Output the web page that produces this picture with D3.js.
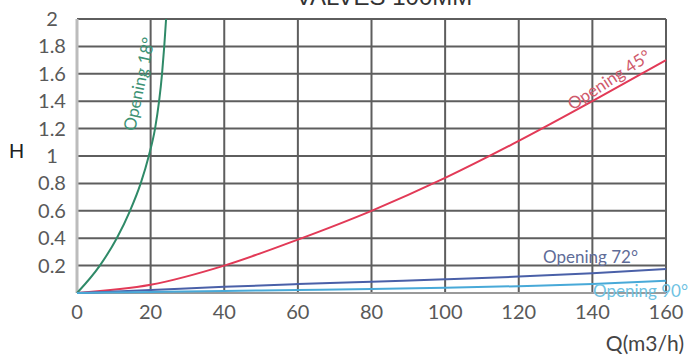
<!DOCTYPE html>
<html>
<head>
<meta charset="utf-8">
<script src="https://cdn.jsdelivr.net/npm/d3@7"></script>
<style>
  body { margin: 0; background: #fff; }
  svg { display: block; }
</style>
</head>
<body>
<div id="chart"></div>
<script>
(function(){
  var width = 697,
      height = 357;

  // flow (m3/h) and head H
  var xTicks = [0, 20, 40, 60, 80, 100, 120, 140, 160];
  var yTicks = [0.2, 0.4, 0.6, 0.8, 1, 1.2, 1.4, 1.6, 1.8, 2];

  var q18 = [0, 6.2, 10.8, 14.4, 17.3, 19.5, 21.2, 22.3, 23.1, 23.7, 24.2];
  var h18 = [0, 0.2, 0.4, 0.6, 0.8, 1.0, 1.2, 1.4, 1.6, 1.8, 2.0];

  var qAll = [0, 20, 40, 60, 80, 100, 120, 140, 160];
  var h45 = [0, 0.06, 0.2, 0.39, 0.6, 0.84, 1.11, 1.4, 1.7];
  var h72 = [0, 0.022, 0.045, 0.065, 0.083, 0.1, 0.12, 0.145, 0.175];
  var h90 = [0, 0.007, 0.015, 0.022, 0.03, 0.038, 0.05, 0.065, 0.09];

  var series = [
    {name: 'Opening 18°', q: q18, h: h18, color: '#2f8a68'},
    {name: 'Opening 45°', q: qAll, h: h45, color: '#e23a57'},
    {name: 'Opening 72°', q: qAll, h: h72, color: '#4a60a8'},
    {name: 'Opening 90°', q: qAll, h: h90, color: '#48a9d8'}
  ];

  var x = d3.scaleLinear().domain([0, 160]).range([77, 666]);
  var y = d3.scaleLinear().domain([0, 2]).range([293, 19]);

  var svg = d3.select('#chart')
    .append('svg')
    .attr('width', width)
    .attr('height', height)
    .style('font-family', 'Lato, "Open Sans", sans-serif');

  // title, mostly cut off at the top like in the source image
  svg.append('text')
    .attr('x', 384)
    .attr('y', 5)
    .attr('text-anchor', 'middle')
    .style('font-family', 'Arial, "Liberation Sans", sans-serif')
    .style('font-size', '24px')
    .attr('fill', '#333')
    .text('VALVES 100MM');

  // grid
  svg.append('g')
    .selectAll('line.h')
    .data(yTicks)
    .enter().append('line')
    .attr('x1', x(0)).attr('x2', x(160))
    .attr('y1', function(d){ return y(d) })
    .attr('y2', function(d){ return y(d) })
    .attr('stroke', '#5e5e5e')
    .attr('stroke-width', 2);

  svg.append('g')
    .selectAll('line.v')
    .data(xTicks.slice(1))
    .enter().append('line')
    .attr('x1', function(d){ return x(d) })
    .attr('x2', function(d){ return x(d) })
    .attr('y1', y(2)).attr('y2', y(0))
    .attr('stroke', '#5e5e5e')
    .attr('stroke-width', 2);

  // axes lines
  svg.append('line')
    .attr('x1', x(0)).attr('x2', x(0))
    .attr('y1', y(2)).attr('y2', y(0))
    .attr('stroke', '#bcbcbc')
    .attr('stroke-width', 3);
  svg.append('line')
    .attr('x1', x(0)).attr('x2', x(160))
    .attr('y1', y(0)).attr('y2', y(0))
    .attr('stroke', '#9a9a9a')
    .attr('stroke-width', 2);

  // tick labels
  svg.append('g')
    .selectAll('text')
    .data(yTicks)
    .enter().append('text')
    .attr('x', 52)
    .attr('y', function(d){ return y(d) + 7 })
    .attr('text-anchor', 'middle')
    .style('font-size', '20px')
    .attr('fill', '#595959')
    .text(function(d){ return d3.format('')(d) });

  svg.append('g')
    .selectAll('text')
    .data(xTicks)
    .enter().append('text')
    .attr('x', function(d){ return x(d) })
    .attr('y', 319)
    .attr('text-anchor', 'middle')
    .style('font-size', '20px')
    .attr('fill', '#595959')
    .text(function(d){ return d });

  // axis titles
  svg.append('text')
    .attr('x', 9)
    .attr('y', 158)
    .style('font-family', 'Arial, "Liberation Sans", sans-serif')
    .style('font-size', '21px')
    .attr('fill', '#222')
    .text('H');

  svg.append('text')
    .attr('x', 684)
    .attr('y', 351)
    .attr('text-anchor', 'end')
    .style('font-size', '21px')
    .attr('fill', '#444')
    .text('Q(m3/h)');

  // curves
  var line = d3.line()
    .x(function(d){ return x(d[0]) })
    .y(function(d){ return y(d[1]) })
    .curve(d3.curveMonotoneX);

  svg.append('g')
    .selectAll('path')
    .data(series)
    .enter().append('path')
    .attr('d', function(s){ return line(d3.zip(s.q, s.h)) })
    .attr('fill', 'none')
    .attr('stroke', function(s){ return s.color })
    .attr('stroke-width', 2);

  // curve labels
  var labels = [
    {text: 'Opening 18°', x: 139, y: 84, rot: -78, color: '#3c9274', anchor: 'middle'},
    {text: 'Opening 45°', x: 609, y: 80, rot: -33, color: '#cf5a6c', anchor: 'middle'},
    {text: 'Opening 72°', x: 543, y: 263, rot: 0, color: '#5f6c98', anchor: 'start'},
    {text: 'Opening 90°', x: 593, y: 297, rot: 0, color: '#6ec2e2', anchor: 'start'}
  ];

  svg.append('g')
    .selectAll('text')
    .data(labels)
    .enter().append('text')
    .attr('transform', function(d){ return 'translate(' + d.x + ',' + d.y + ') rotate(' + d.rot + ')' })
    .attr('text-anchor', function(d){ return d.anchor })
    .attr('dy', function(d){ return d.rot ? '0.35em' : 0 })
    .style('font-size', '17px')
    .attr('fill', function(d){ return d.color })
    .text(function(d){ return d.text });
})()
</script>
</body>
</html>
